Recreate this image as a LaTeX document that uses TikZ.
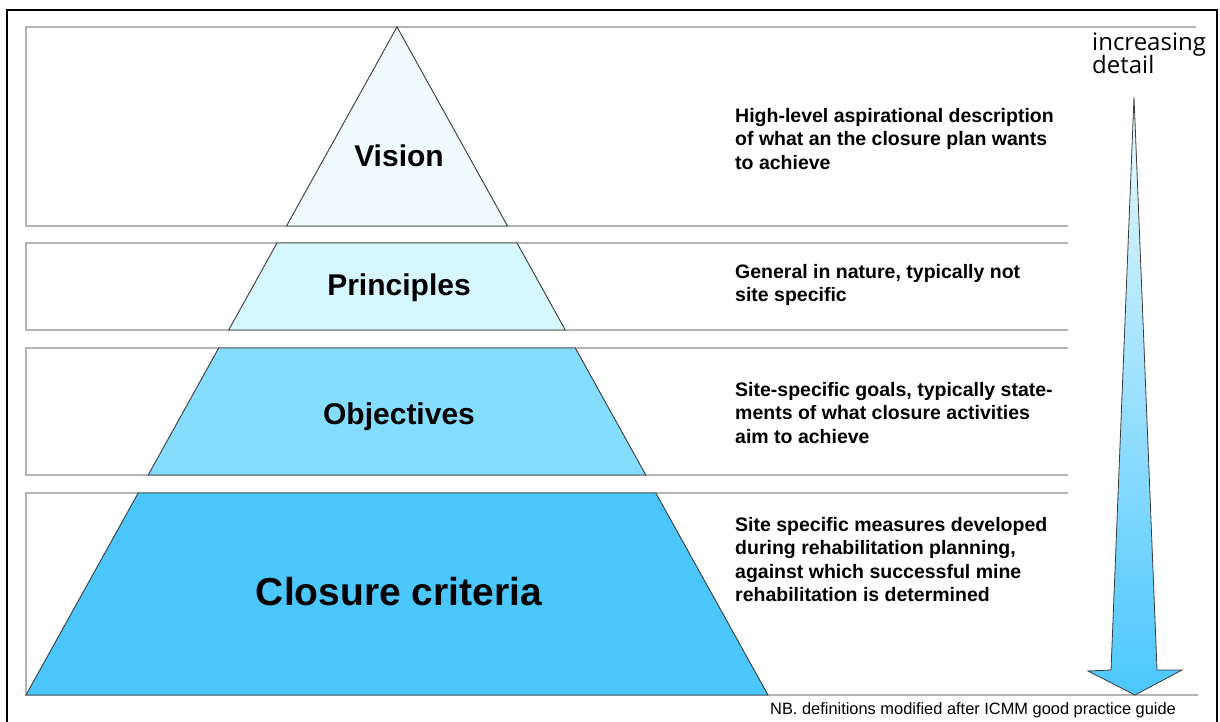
\documentclass[tikz,border=0pt]{standalone}
\usepackage{fontspec}
\setmainfont{Liberation Sans}
\newfontfamily\humanist{Open Sans}
\newcommand\incrfont{\humanist\fontsize{24}{22.5}\selectfont\lineskiplimit=-50pt\relax}
\definecolor{visionfill}{HTML}{F0FBFE}
\definecolor{princfill}{HTML}{D6F7FE}
\definecolor{objfill}{HTML}{85DDFE}
\definecolor{critfill}{HTML}{4BC7FD}
\definecolor{bandline}{HTML}{B4B4B4}
\definecolor{edgeline}{HTML}{3A3A3A}
\definecolor{arrowtop}{HTML}{EAF9FF}
\begin{document}
\begin{tikzpicture}[x=1pt,y=-1pt,
  band/.style={draw=bandline, line width=1.4pt},
  layer/.style={draw=edgeline, line width=0.9pt},
  layerlabel/.style={font=\fontsize{30}{34}\selectfont\bfseries, inner sep=0pt},
  desc/.style={font=\fontsize{19.5}{23.5}\selectfont\bfseries, align=left, anchor=north west, inner sep=0pt},
  frame/.style={draw=black, line width=2pt}]
\useasboundingbox (0,0) rectangle (1220,722);
\fill[white] (0,0) rectangle (1220,722);
% outer frame (bottom edge outside the picture)
\draw[frame] (7,730) -- (7,10) -- (1217,10) -- (1217,730);
% bands
\draw[band] (1068,226) -- (26,226) -- (26,27) -- (1196,27);
\draw[band] (1068,243) -- (26,243) -- (26,330) -- (1068,330);
\draw[band] (1068,348) -- (26,348) -- (26,475) -- (1068,475);
\draw[band] (1068,493) -- (26,493) -- (26,695) -- (1198,695);
% pyramid layers
\draw[layer, fill=visionfill] (397,27) -- (507.5,226) -- (286.5,226) -- cycle;
\draw[layer, fill=princfill] (277,243) -- (517,243) -- (565.3,330) -- (228.7,330) -- cycle;
\draw[layer, fill=objfill] (218.7,348) -- (575.3,348) -- (645.8,475) -- (148.2,475) -- cycle;
\draw[layer, fill=critfill] (138.2,493) -- (655.8,493) -- (768,695) -- (26,695) -- cycle;
% layer labels
\node[layerlabel] (vision) at (399,156) {Vision};
\node[layerlabel] (principles) at (399,288) {Principles};
\node[layerlabel] (objectives) at (399,417) {Objectives};
\node[layerlabel, font=\fontsize{39}{44}\selectfont\bfseries] (criteria) at (399,592) {Closure criteria};
% descriptions
\node[desc] (dvision) at (735,108) {High-level aspirational description\\of what an the closure plan wants\\to achieve};
\node[desc] (dprinciples) at (735,264) {General in nature, typically not\\site specific};
\node[desc] (dobjectives) at (735,382) {Site-specific goals, typically state-\\ments of what closure activities\\aim to achieve};
\node[desc] (dcriteria) at (735,517) {Site specific measures developed\\during rehabilitation planning,\\against which successful mine\\rehabilitation is determined};
% increasing detail arrow
\node[font=\incrfont, align=left, anchor=north west, inner sep=0pt] (incr) at (1092,33) {increasing\\detail};
\shade[top color=arrowtop, bottom color=critfill, draw=edgeline, line width=0.8pt, line join=miter]
  (1134,97) -- (1157,670) -- (1182,670) -- (1135,695) -- (1088,671) -- (1111,670) -- cycle;
% footnote
\node[font=\fontsize{16.4}{19}\selectfont, anchor=base west, inner sep=0pt] (nb) at (770,714) {NB. definitions modified after ICMM good practice guide};
\end{tikzpicture}
\end{document}
